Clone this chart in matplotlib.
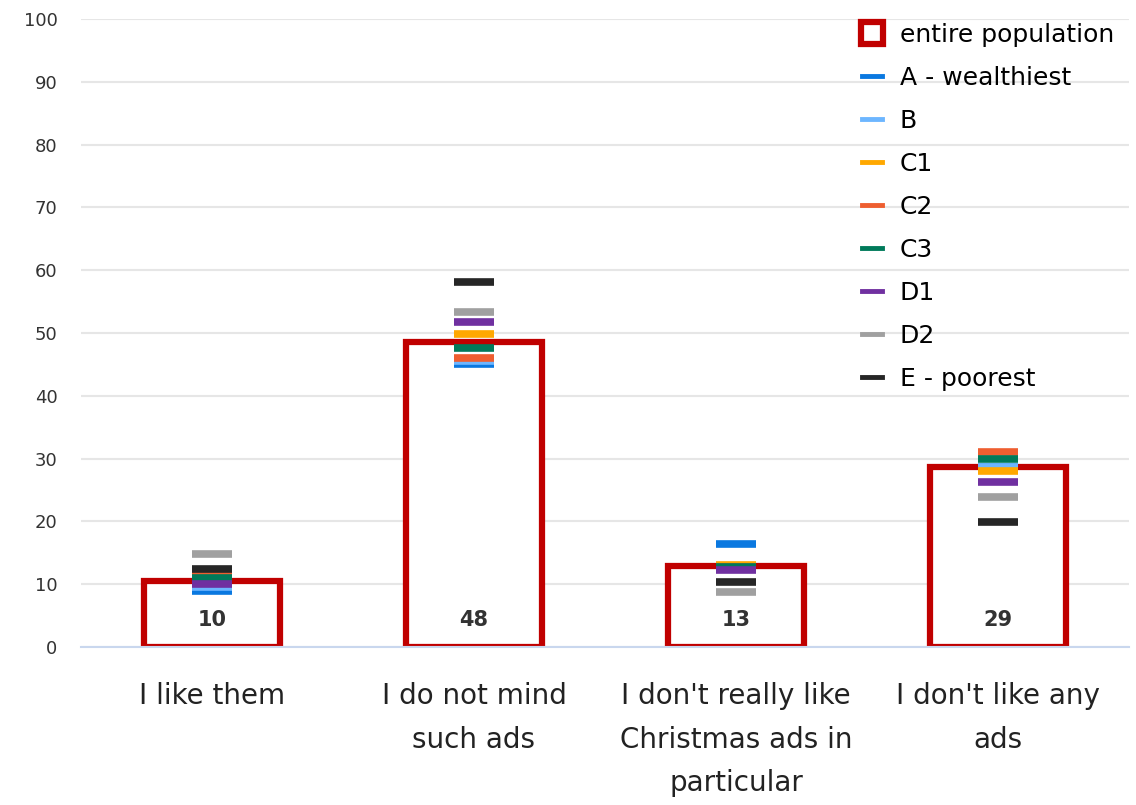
import matplotlib.pyplot as plt
from matplotlib.lines import Line2D
import numpy as np

categories = ["I like them", "I do not mind\nsuch ads",
              "I don't really like\nChristmas ads in\nparticular", "I don't like any\nads"]
population = [10.5, 48.5, 12.9, 28.7]
value_labels = ["10", "48", "13", "29"]

group_names = ["A - wealthiest", "B", "C1", "C2", "C3", "D1", "D2", "E - poorest"]
group_colors = ["#0A78E0", "#6DB6FF", "#FFA800", "#EE5E30", "#007A5A", "#7030A0", "#A0A0A0", "#262626"]
A = [8.9, 45.0, 16.4, 28.7]
B = [9.5, 45.5, 12.8, 28.7]
C1 = [11.2, 49.8, 13.1, 28.1]
C2 = [11.5, 46.0, 12.8, 31.1]
C3 = [11.0, 47.6, 12.8, 30.0]
D1 = [10.0, 51.7, 12.2, 26.2]
D2 = [14.8, 53.3, 8.7, 23.9]
E = [12.5, 58.1, 10.3, 19.9]
groups = [A, B, C1, C2, C3, D1, D2, E]

fig = plt.figure(figsize=(11.36, 8.05), dpi=100)
ax = fig.add_axes([81/1136, 1 - 647/805, (1129 - 81)/1136, (647 - 19)/805])

x = np.arange(len(categories))
ax.bar(x, population, width=0.52, color='white', edgecolor='#C00000', linewidth=4.5, zorder=2)

for vals, col in zip(groups, group_colors):
    ax.plot(x, vals, linestyle='none', marker='_', markersize=29, markeredgewidth=5.5,
            color=col, zorder=3)

for xi, lab in zip(x, value_labels):
    ax.text(xi, 4.3, lab, ha='center', va='center', fontsize=15, fontweight='bold',
            color='#333333', zorder=4)

ax.set_xlim(-0.5, 3.5)
ax.set_ylim(0, 100)
ax.set_yticks(range(0, 101, 10))
ax.set_xticks(x)
ax.set_xticklabels(categories, fontsize=20, linespacing=1.72, color='#222222')
ax.tick_params(axis='x', length=0, pad=25)
ax.tick_params(axis='y', length=0, pad=17, labelsize=13, labelcolor='#333333')
ax.grid(axis='y', color='#E6E6E6', linewidth=1.5, zorder=0)
ax.set_axisbelow(True)
for s in ['top', 'right', 'left']:
    ax.spines[s].set_visible(False)
ax.spines['bottom'].set_color('#C9D7EE')
ax.spines['bottom'].set_linewidth(1.5)

handles = [Line2D([], [], linestyle='none', marker='s', markersize=16, markerfacecolor='white',
                  markeredgecolor='#C00000', markeredgewidth=4.5)]
handles += [Line2D([], [], color=c, linewidth=3.5) for c in group_colors]
labels = ['entire population'] + group_names
leg = ax.legend(handles, labels, loc='upper right', bbox_to_anchor=(0.995, 1.01), frameon=False,
                fontsize=18, handlelength=0.8, handletextpad=0.7, labelspacing=0.76,
                borderaxespad=0.0)

fig.savefig('out.png', dpi=100)
